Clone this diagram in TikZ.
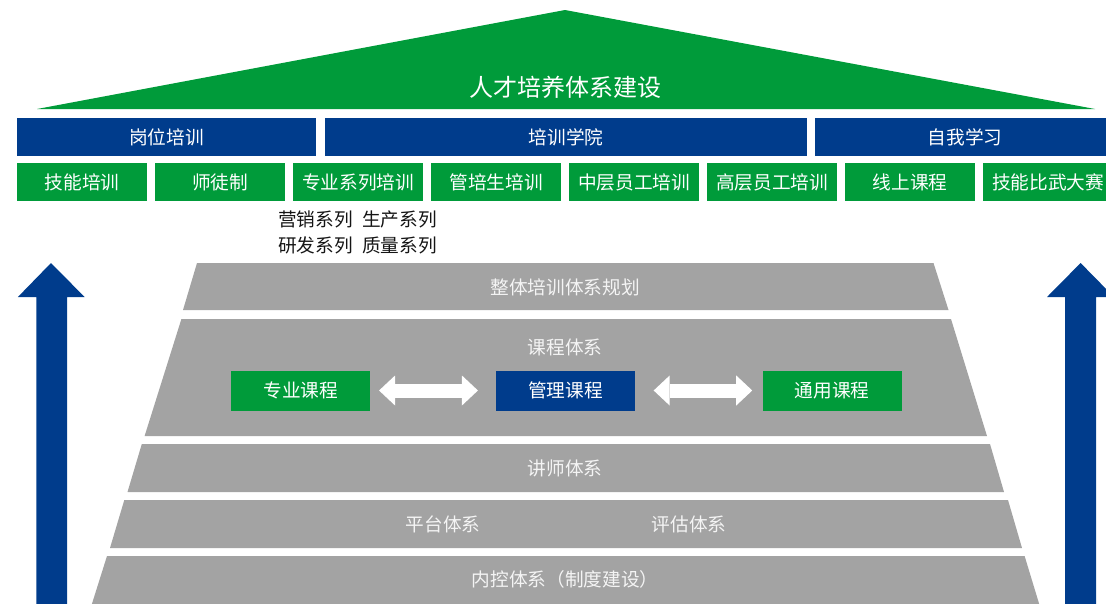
\documentclass[tikz,border=0pt]{standalone}
\usepackage{fontspec}
\setmainfont{Noto Sans CJK SC}
\usetikzlibrary{calc,arrows.meta}
\definecolor{hgreen}{HTML}{009B3A}
\definecolor{hblue}{HTML}{003C8C}
\definecolor{hgray}{HTML}{A3A3A3}
\definecolor{hlight}{HTML}{F4F4F4}
\definecolor{hdark}{HTML}{151515}
\begin{document}
\begin{tikzpicture}[x=0.75pt,y=-0.75pt,
  font=\fontsize{14pt}{20pt}\selectfont,
  gbox/.style={fill=hgreen,text=white,inner sep=0pt,minimum width=97.5pt,minimum height=28.5pt},
  bbox/.style={fill=hblue,text=white,inner sep=0pt,minimum height=28.5pt},
  cbox/.style={inner sep=0pt,text=white,minimum width=104.25pt,minimum height=30pt},
  glabel/.style={text=hlight,inner sep=0pt},
  twoway/.style={white,line width=10.5pt,
    {Triangle[length=12pt,width=22.5pt,line width=0pt]}-{Triangle[length=12pt,width=22.5pt,line width=0pt]}}
]
\useasboundingbox (0,0) rectangle (1106,603);
\clip (0,0) rectangle (1106,603);

% roof
\fill[hgreen] (37,109) -- (565,10) -- (1095,109) -- cycle;
\node[text=white,inner sep=0pt,font=\fontsize{18pt}{22pt}\selectfont] (title) at (565,87) {人才培养体系建设};

% blue row
\node[bbox,minimum width=224.25pt] (gw) at (166.5,137) {岗位培训};
\node[bbox,minimum width=361.5pt] (xy) at (566,137) {培训学院};
\node[bbox,minimum width=225pt] (zw) at (965,137) {自我学习};

% green row
\node[gbox] (g1) at (82,182) {技能培训};
\node[gbox] (g2) at (220,182) {师徒制};
\node[gbox] (g3) at (358,182) {专业系列培训};
\node[gbox] (g4) at (496,182) {管培生培训};
\node[gbox] (g5) at (634,182) {中层员工培训};
\node[gbox] (g6) at (772,182) {高层员工培训};
\node[gbox] (g7) at (910,182) {线上课程};
\node[gbox] (g8) at (1048,182) {技能比武大赛};

% sub labels
\node[text=hdark,inner sep=0pt,align=center] (series) at (357.5,232.5) {营销系列\hspace{0.5em}生产系列\\研发系列\hspace{0.5em}质量系列};

% side arrows
\fill[hblue] (51,263) -- (84.6,297) -- (67,297) -- (67,610) -- (36.4,610) -- (36.4,297) -- (17.9,297) -- cycle;
\fill[hblue] (1080.6,263) -- (1114,297) -- (1096,297) -- (1096,610) -- (1065,610) -- (1065,297) -- (1047,297) -- cycle;

% pyramid layers
\fill[hgray] (197,263) -- (933.5,263) -- (948.5,310) -- (183,310) -- cycle;
\fill[hgray] (181.4,319) -- (951,319) -- (987,436) -- (144.6,436) -- cycle;
\fill[hgray] (141.8,444) -- (990,444) -- (1004,492) -- (127.5,492) -- cycle;
\fill[hgray] (124.3,500) -- (1008,500) -- (1022,548) -- (110,548) -- cycle;
\fill[hgray] (107,556) -- (1024.6,556) -- (1041,610) -- (90,610) -- cycle;

\node[glabel] (plan) at (565,287) {整体培训体系规划};
\node[glabel] (course) at (565,347) {课程体系};
\node[glabel] (teacher) at (565,468) {讲师体系};
\node[glabel] (platform) at (443,524) {平台体系};
\node[glabel] (evaluate) at (689,524) {评估体系};
\node[glabel] (control) at (565,579) {内控体系（制度建设）};

% course boxes
\node[cbox,fill=hgreen] (zy) at (300.7,390.5) {专业课程};
\node[cbox,fill=hblue] (gl) at (565.5,390.5) {管理课程};
\node[cbox,fill=hgreen] (ty) at (832,390.5) {通用课程};

\draw[twoway] ($(zy.east)+(8.6,0)$) -- ($(gl.west)+(-17.8,0)$);
\draw[twoway] ($(gl.east)+(18.4,0)$) -- ($(ty.west)+(-10,0)$);
\end{tikzpicture}
\end{document}
